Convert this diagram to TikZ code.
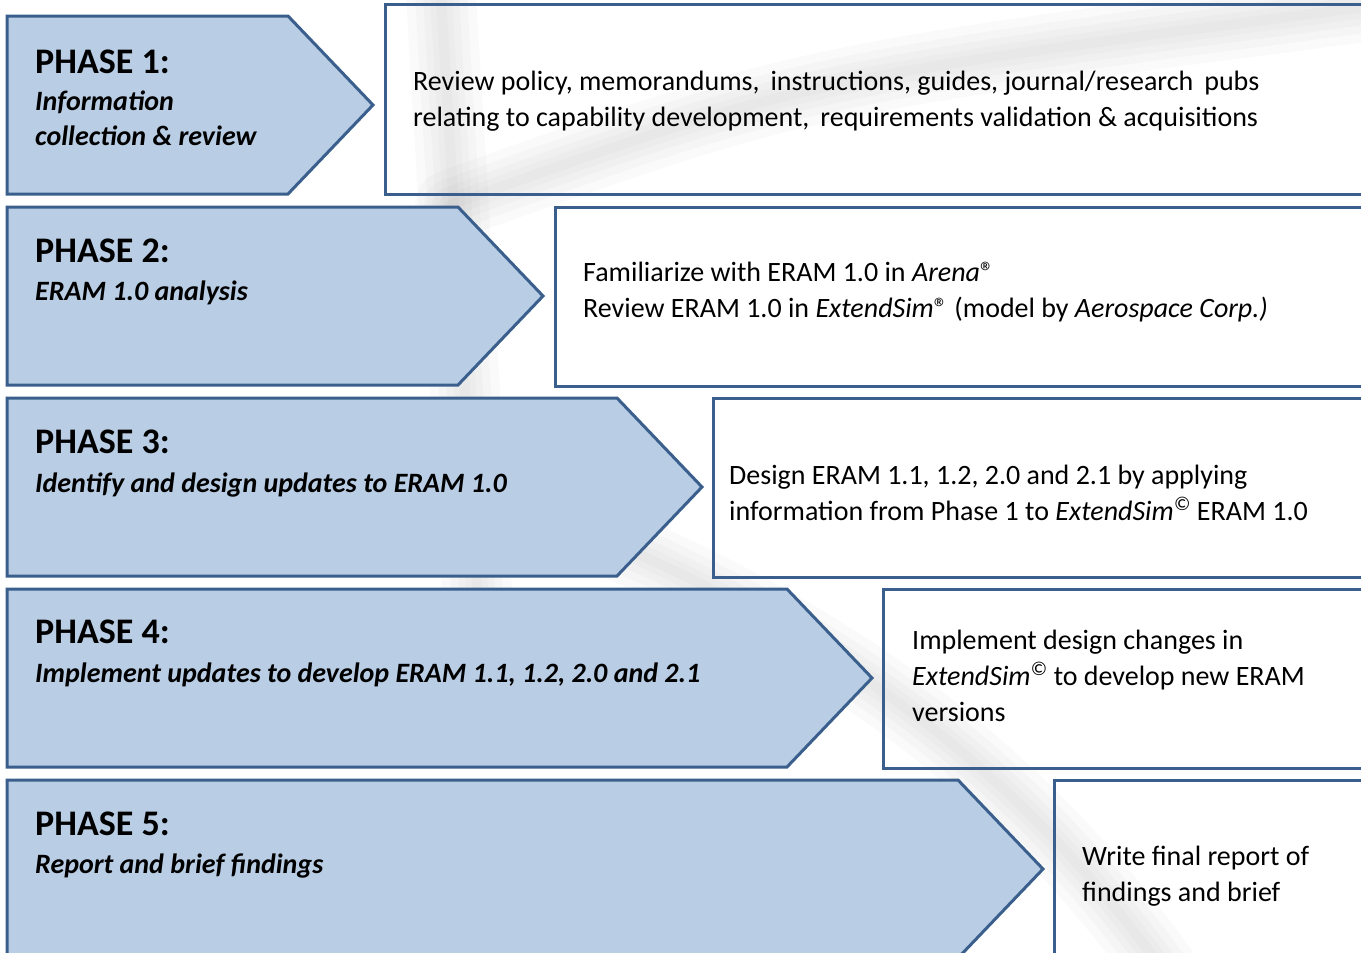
\documentclass[tikz,border=0pt]{standalone}
\usepackage{fontspec}
\setmainfont{Carlito}
\definecolor{phasefill}{HTML}{B9CDE5}
\definecolor{phaseline}{HTML}{3A5F8C}
\definecolor{streakgray}{HTML}{808080}
\begin{document}
\begin{tikzpicture}[x=1pt,y=-1pt,
  phasearrow/.style={fill=phasefill,draw=phaseline,line width=3pt,line join=miter},
  taskbox/.style={draw=phaseline,line width=3pt},
  head/.style={anchor=base west,inner sep=0pt,font=\fontsize{36}{36}\selectfont\bfseries},
  sub/.style={anchor=base west,inner sep=0pt,align=left,font=\fontsize{28}{35}\selectfont\bfseries\itshape},
  body/.style={anchor=base west,inner sep=0pt,align=left,font=\fontsize{28}{36}\selectfont},
  streak/.style={draw=streakgray,line cap=round,opacity=0.035}]
\useasboundingbox (0,0) rectangle (1361,953);
\clip (0,0) rectangle (1361,953);
\fill[white] (0,0) rectangle (1361,953);

% faint soft streaks in the backdrop
\foreach \w in {70,52,36,22,10} {
  \draw[streak,line width=\w pt] (440,-20) -- (480,640);
  \draw[streak,line width=\w pt] (450,205) .. controls (800,80) .. (1380,5);
  \draw[streak,line width=\w pt] (560,520) .. controls (800,620) and (1000,740) .. (1170,980);
}

% phase arrows
\foreach \i/\top/\corner in {1/16/288,2/207/458,3/398/617,4/589/787,5/780/958} {
  \draw[phasearrow] (7,\top) -- (\corner,\top) -- ({\corner+85},{\top+89})
    -- (\corner,{\top+178}) -- (7,{\top+178}) -- cycle;
}

% task boxes, running off the right edge
\draw[taskbox] (385,4) rectangle (1390,194);
\draw[taskbox] (555,207) rectangle (1390,386);
\draw[taskbox] (713,398) rectangle (1390,577);
\draw[taskbox] (883,589) rectangle (1390,768);
\draw[taskbox] (1054,780) rectangle (1390,990);

% phase titles (multi-line nodes are placed by the baseline of their last line)
\node[head] (h1) at (35,73) {PHASE 1:};
\node[sub]  (s1) at (35,145) {Information\\collection \& review};
\node[head] (h2) at (35,262) {PHASE 2:};
\node[sub]  (s2) at (35,300) {ERAM 1.0 analysis};
\node[head] (h3) at (35,453) {PHASE 3:};
\node[sub]  (s3) at (35,492) {Identify and design updates to ERAM 1.0};
\node[head] (h4) at (35,643) {PHASE 4:};
\node[sub]  (s4) at (35,682) {Implement updates to develop ERAM 1.1, 1.2, 2.0 and 2.1};
\node[head] (h5) at (35,835) {PHASE 5:};
\node[sub]  (s5) at (35,873) {Report and brief findings};

% task descriptions
\node[body] (t1) at (413,126) {Review policy, memorandums,\, instructions, guides, journal/research\, pubs\\relating to capability development,\, requirements validation \& acquisitions};
\node[body] (t2) at (583,317) {Familiarize with ERAM 1.0 in \textit{Arena}®\\Review ERAM 1.0 in \textit{ExtendSim}® (model by \textit{Aerospace Corp.)}};
\node[body] (t3) at (729,520) {Design ERAM 1.1, 1.2, 2.0 and 2.1 by applying\\information from Phase 1 to \textit{ExtendSim\textsuperscript{©}} ERAM 1.0};
\node[body] (t4) at (912,721) {Implement design changes in\\\textit{ExtendSim\textsuperscript{©}} to develop new ERAM\\versions};
\node[body] (t5) at (1082,901) {Write final report of\\findings and brief};
\end{tikzpicture}
\end{document}
